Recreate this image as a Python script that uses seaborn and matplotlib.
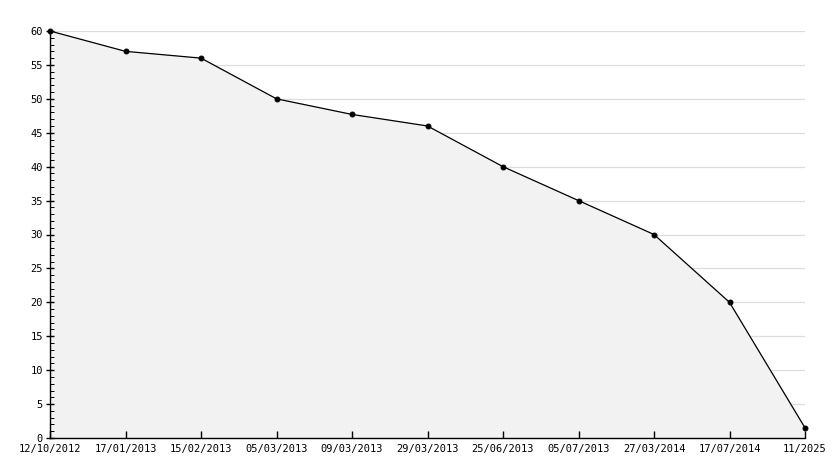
import numpy as np
import pandas as pd
import matplotlib.pyplot as plt
import seaborn as sns

dates = ["12/10/2012", "17/01/2013", "15/02/2013", "05/03/2013", "09/03/2013",
         "29/03/2013", "25/06/2013", "05/07/2013", "27/03/2014", "17/07/2014", "11/2025"]
values = [60, 57, 56, 50, 47.7, 46, 40, 35, 30, 20, 1.5]
yticks = np.arange(0, 61, 5)

df = pd.DataFrame({"pos": np.arange(len(dates)), "value": values})

sns.set_style("white")
plt.rcParams['font.family'] = ['DejaVu Sans Mono']

fig = plt.figure(figsize=(8.34, 4.68), dpi=100)
ax = fig.add_axes([50 / 834, 30 / 468, 755 / 834, 407 / 468])

# grid under the fill, ticks above it
for yv in yticks[1:]:
    ax.axhline(yv, color="#dddddd", linewidth=0.9, zorder=0.5)
ax.fill_between(df["pos"], df["value"], 0, color="#f2f2f2", zorder=1)
sns.lineplot(data=df, x="pos", y="value", ax=ax, color="black", linewidth=0.9,
             marker="o", markersize=3.5, markeredgecolor="black", zorder=3,
             clip_on=False)

ax.set_xlim(0, len(dates) - 1)
ax.set_ylim(0, 60)
ax.set_xticks(df["pos"])
ax.set_xticklabels(dates)
ax.set_yticks(yticks)
ax.set_yticks(np.arange(0, 61, 1), minor=True)
ax.grid(False)
ax.set_axisbelow(False)

for s in ["top", "right"]:
    ax.spines[s].set_visible(False)
for s in ["left", "bottom"]:
    ax.spines[s].set_color("black")
    ax.spines[s].set_linewidth(1)

ax.tick_params(axis="x", bottom=True, direction="in", length=5, width=1, labelsize=7.5, pad=4, colors="black")
ax.tick_params(axis="y", which="major", left=True, direction="inout", length=6, width=1, labelsize=7.5, pad=2, colors="black")
ax.tick_params(axis="y", which="minor", left=True, direction="in", length=3, width=0.7, colors="black")
ax.set_xlabel("")
ax.set_ylabel("")

fig.savefig("out.png", dpi=100)
